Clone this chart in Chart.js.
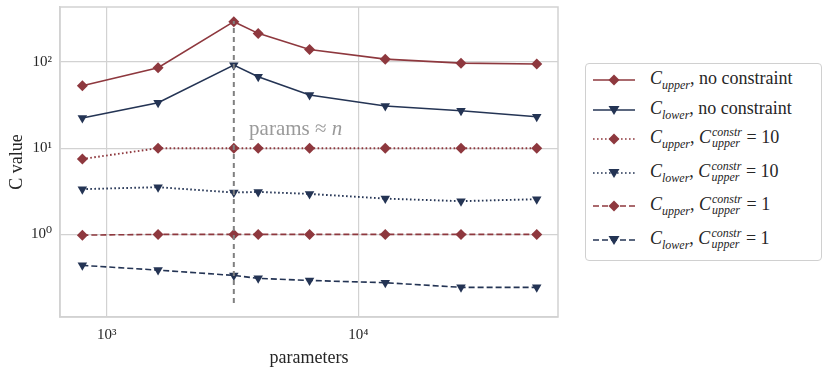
<!DOCTYPE html>
<html>
<head>
<meta charset="utf-8">
<script src="https://cdn.jsdelivr.net/npm/chart.js@4"></script>
<style>
  body { margin: 0; background: #fff; }
  #wrap { position: relative; width: 831px; height: 371px; }
  #leyenda {
    position: absolute; left: 585px; top: 63px; width: 235px; height: 196px;
    border: 1px solid #d0d0d0; border-radius: 4px; background: #fff;
    font-family: "Liberation Serif", "DejaVu Serif", serif; font-size: 18px; color: #262626;
  }
  .fila { position: absolute; left: 6px; height: 30px; display: flex; align-items: center; }
  .fila svg { width: 44px; height: 14px; margin-right: 14px; }
  .fila i { font-style: italic; }
  .ss { display: inline-flex; flex-direction: column; vertical-align: middle; font-size: 12px; line-height: 11px; font-style: italic; margin-left: 1px; position: relative; top: -1px; }
  sub { font-size: 12px; font-style: italic; }
</style>
</head>
<body>
<div id="wrap">
  <canvas id="grafico" width="831" height="371"></canvas>
  <div id="leyenda"></div>
</div>
<script>
// datos
const parametros = [800, 1600, 3200, 4000, 6400, 12800, 25600, 51200];
const upperLibre = [53, 86, 294, 215, 140, 108, 97, 95];
const lowerLibre = [22.4, 33.7, 92, 67.6, 41.4, 30.9, 27.2, 23.2];
const upperConstr10 = [7.5, 10, 10, 10, 10, 10, 10, 10];
const lowerConstr10 = [3.35, 3.53, 3.06, 3.11, 2.95, 2.6, 2.43, 2.56];
const upperConstr1 = [0.98, 1, 1, 1, 1, 1, 1, 1];
const lowerConstr1 = [0.437, 0.385, 0.334, 0.309, 0.292, 0.275, 0.243, 0.243];
const lineaVertX = 3200;
const lineaVertY = [0.16, 300];
const ticksX = [1000, 10000];
const ticksY = [1, 10, 100];
const etiquetasY = ['10⁰', '10¹', '10²'];
const etiquetasX = ['10³', '10⁴'];

const rojo = 'rgb(142,56,62)';
const azul = 'rgb(36,52,84)';
const fuente = '"Liberation Serif", "DejaVu Serif", serif';

function serie(valores, color, tipo, estilo) {
    const esUpper = tipo === 'upper';
    return {
        data: parametros.map((x, i) => ({ x: x, y: valores[i] })),
        borderColor: color,
        backgroundColor: color,
        borderWidth: estilo === 'dot' ? 1.9 : 1.6,
        borderDash: estilo === 'dot' ? [1.6, 2.4] : (estilo === 'dash' ? [6, 3] : []),
        pointStyle: esUpper ? 'rectRot' : 'triangle',
        rotation: esUpper ? 0 : 180,
        pointRadius: 5.5,
        pointBorderWidth: 0,
        tension: 0
    };
}

// texto "params ≈ n"
const anotacion = {
    id: 'anotacion',
    afterDatasetsDraw(chart) {
        const ctx = chart.ctx;
        const x = chart.scales.x.getPixelForValue(3680);
        const y = chart.scales.y.getPixelForValue(16.3);
        ctx.save();
        ctx.fillStyle = '#9a9a9a';
        ctx.textBaseline = 'middle';
        ctx.font = '21px ' + fuente;
        ctx.fillText('params ≈ ', x, y);
        const w = ctx.measureText('params ≈ ').width;
        ctx.font = 'italic 21px ' + fuente;
        ctx.fillText('n', x + w, y);
        ctx.restore();
    }
};

const ctx = document.getElementById('grafico').getContext('2d');
new Chart(ctx, {
    type: 'line',
    data: {
        datasets: [
            {
                data: lineaVertY.map(y => ({ x: lineaVertX, y: y })),
                borderColor: 'rgb(128,128,128)',
                borderWidth: 2,
                borderDash: [5, 4],
                pointRadius: 0
            },
            serie(upperLibre, rojo, 'upper', 'solid'),
            serie(lowerLibre, azul, 'lower', 'solid'),
            serie(upperConstr10, rojo, 'upper', 'dot'),
            serie(lowerConstr10, azul, 'lower', 'dot'),
            serie(upperConstr1, rojo, 'upper', 'dash'),
            serie(lowerConstr1, azul, 'lower', 'dash')
        ]
    },
    options: {
        responsive: false,
        animation: false,
        layout: { padding: { top: 7, right: 273, left: 0, bottom: 0 } },
        plugins: { legend: { display: false }, tooltip: { enabled: false } },
        scales: {
            x: {
                type: 'logarithmic',
                min: 652, max: 62200,
                afterBuildTicks(s) { s.ticks = ticksX.map(v => ({ value: v })); },
                afterFit(s) { s.height = 54; s.paddingLeft = 0; s.paddingRight = 0; },
                ticks: {
                    color: '#262626', font: { family: fuente, size: 15 }, padding: 9,
                    callback: (v) => etiquetasX[ticksX.indexOf(v)]
                },
                grid: { color: 'rgb(210,210,210)', lineWidth: 1.2, drawTicks: false },
                border: { color: 'rgb(210,210,210)', width: 1.5 },
                title: { display: true, text: 'parameters', color: '#262626', font: { family: fuente, size: 18 }, padding: { top: 0, bottom: 2 } }
            },
            y: {
                type: 'logarithmic',
                min: 0.11, max: 435,
                afterBuildTicks(s) { s.ticks = ticksY.map(v => ({ value: v })); },
                afterFit(s) { s.width = 60; s.paddingTop = 0; s.paddingBottom = 0; },
                ticks: {
                    color: '#262626', font: { family: fuente, size: 15 }, padding: 8,
                    callback: (v) => etiquetasY[ticksY.indexOf(v)]
                },
                grid: { color: 'rgb(210,210,210)', lineWidth: 1.2, drawTicks: false },
                border: { color: 'rgb(210,210,210)', width: 1.5 },
                title: { display: true, text: 'C value', color: '#262626', font: { family: fuente, size: 18 }, padding: { top: 6, bottom: 4 } }
            }
        }
    },
    plugins: [anotacion, {
        id: 'marco',
        afterDraw(chart) {
            const a = chart.chartArea;
            const c = chart.ctx;
            c.save();
            c.strokeStyle = 'rgb(210,210,210)';
            c.lineWidth = 1.5;
            c.strokeRect(a.left, a.top, a.right - a.left, a.bottom - a.top);
            c.restore();
        }
    }]
});

// leyenda en HTML (subindices y superindices)
const textosLeyenda = [
    '<i>C</i><sub>upper</sub>, no constraint',
    '<i>C</i><sub>lower</sub>, no constraint',
    '<i>C</i><sub>upper</sub>, <i>C</i><span class="ss"><span>constr</span><span>upper</span></span> = 10',
    '<i>C</i><sub>lower</sub>, <i>C</i><span class="ss"><span>constr</span><span>upper</span></span> = 10',
    '<i>C</i><sub>upper</sub>, <i>C</i><span class="ss"><span>constr</span><span>upper</span></span> = 1',
    '<i>C</i><sub>lower</sub>, <i>C</i><span class="ss"><span>constr</span><span>upper</span></span> = 1'
];
const filasY = [1, 31, 60, 94, 127, 161];
const estilosLeyenda = ['', '', '1.6,2.4', '1.6,2.4', '6,3', '6,3'];
const leyenda = document.getElementById('leyenda');
textosLeyenda.forEach((t, i) => {
    const color = i % 2 === 0 ? rojo : azul;
    const marca = i % 2 === 0
        ? `<polygon points="22,1.5 27.5,7 22,12.5 16.5,7" fill="${color}"/>`
        : `<polygon points="16.5,3 27.5,3 22,12" fill="${color}"/>`;
    const div = document.createElement('div');
    div.className = 'fila';
    div.style.top = filasY[i] + 'px';
    div.innerHTML = `<svg viewBox="0 0 44 14"><line x1="1" y1="7" x2="43" y2="7" stroke="${color}" stroke-width="1.7" stroke-dasharray="${estilosLeyenda[i]}"/>${marca}</svg><span>${t}</span>`;
    leyenda.appendChild(div);
});
</script>
</body>
</html>
